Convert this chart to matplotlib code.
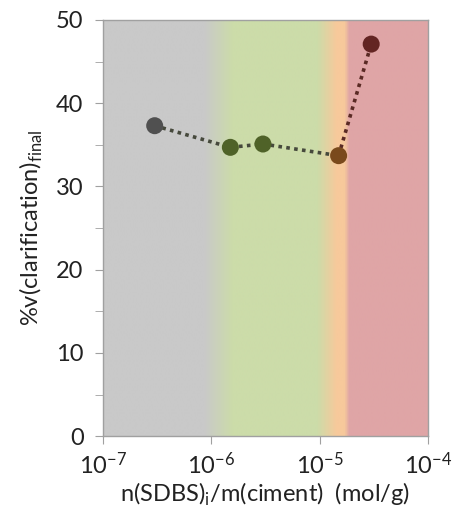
import numpy as np
import matplotlib
matplotlib.use('Agg')
import matplotlib.pyplot as plt
from matplotlib.colors import LinearSegmentedColormap
from matplotlib.ticker import LogLocator, LogFormatterMathtext, MultipleLocator, NullLocator

plt.rcParams['font.family'] = ['Lato', 'DejaVu Sans']
plt.rcParams['mathtext.fontset'] = 'custom'
plt.rcParams['mathtext.rm'] = 'Lato'

# data
conc = [3.0e-7, 1.5e-6, 3.0e-6, 1.5e-5, 3.0e-5]
clarif = [37.3, 34.7, 35.1, 33.7, 47.1]
point_colors = ['#505050', '#4f6228', '#4f6228', '#7a4a1c', '#632523']

# background zones (position along log axis, colour)
zone_pos = [0.0, 0.31, 0.40, 0.66, 0.72, 0.745, 0.76, 1.0]
zone_col = ['#c9c9c9', '#c9c9c9', '#ccdca9', '#ccdca9', '#f7c99b', '#f7c99b', '#dfa5a6', '#dfa5a6']

fig = plt.figure(figsize=(4.6, 5.12), dpi=100)
ax = fig.add_axes([0.224, 0.148, 0.706, 0.813])

cmap = LinearSegmentedColormap.from_list('zones', list(zip(zone_pos, zone_col)))
grad = np.linspace(0, 1, 600).reshape(1, -1)
ax.imshow(grad, cmap=cmap, aspect='auto', extent=[0, 1, 0, 1],
          transform=ax.transAxes, zorder=0, interpolation='bilinear')

ax.plot(conc[:4], clarif[:4], ls=(0, (1, 1.2)), lw=2.6, color='#46493c', zorder=2)
ax.plot(conc[3:], clarif[3:], ls=(0, (1, 1.2)), lw=2.6, color='#5a2a24', zorder=2)
ax.scatter(conc, clarif, s=150, c=point_colors, zorder=3, edgecolors='none')

ax.set_xscale('log')
ax.set_xlim(1e-7, 1e-4)
ax.set_ylim(0, 50)
ax.xaxis.set_major_locator(LogLocator(base=10, numticks=10))
ax.xaxis.set_major_formatter(LogFormatterMathtext())
ax.xaxis.set_minor_locator(NullLocator())
ax.yaxis.set_major_locator(MultipleLocator(10))
ax.yaxis.set_minor_locator(MultipleLocator(5))

for s in ax.spines.values():
    s.set_color('#a0a0a0')
    s.set_linewidth(1.0)
ax.tick_params(which='both', direction='out', color='#a0a0a0', labelsize=17, labelcolor='#222222')
ax.tick_params(which='major', length=6)
ax.tick_params(which='minor', length=6)
ax.tick_params(axis='y', pad=8)
ax.tick_params(axis='x', pad=5)

ax.set_xlabel(r'n(SDBS)$_\mathregular{i}$/m(ciment)  (mol/g)', fontsize=17, color='#222222', labelpad=2)
ax.set_ylabel(r'%v(clarification)$_\mathregular{final}$', fontsize=17, color='#222222', labelpad=8)

fig.savefig('out.png', dpi=100)
